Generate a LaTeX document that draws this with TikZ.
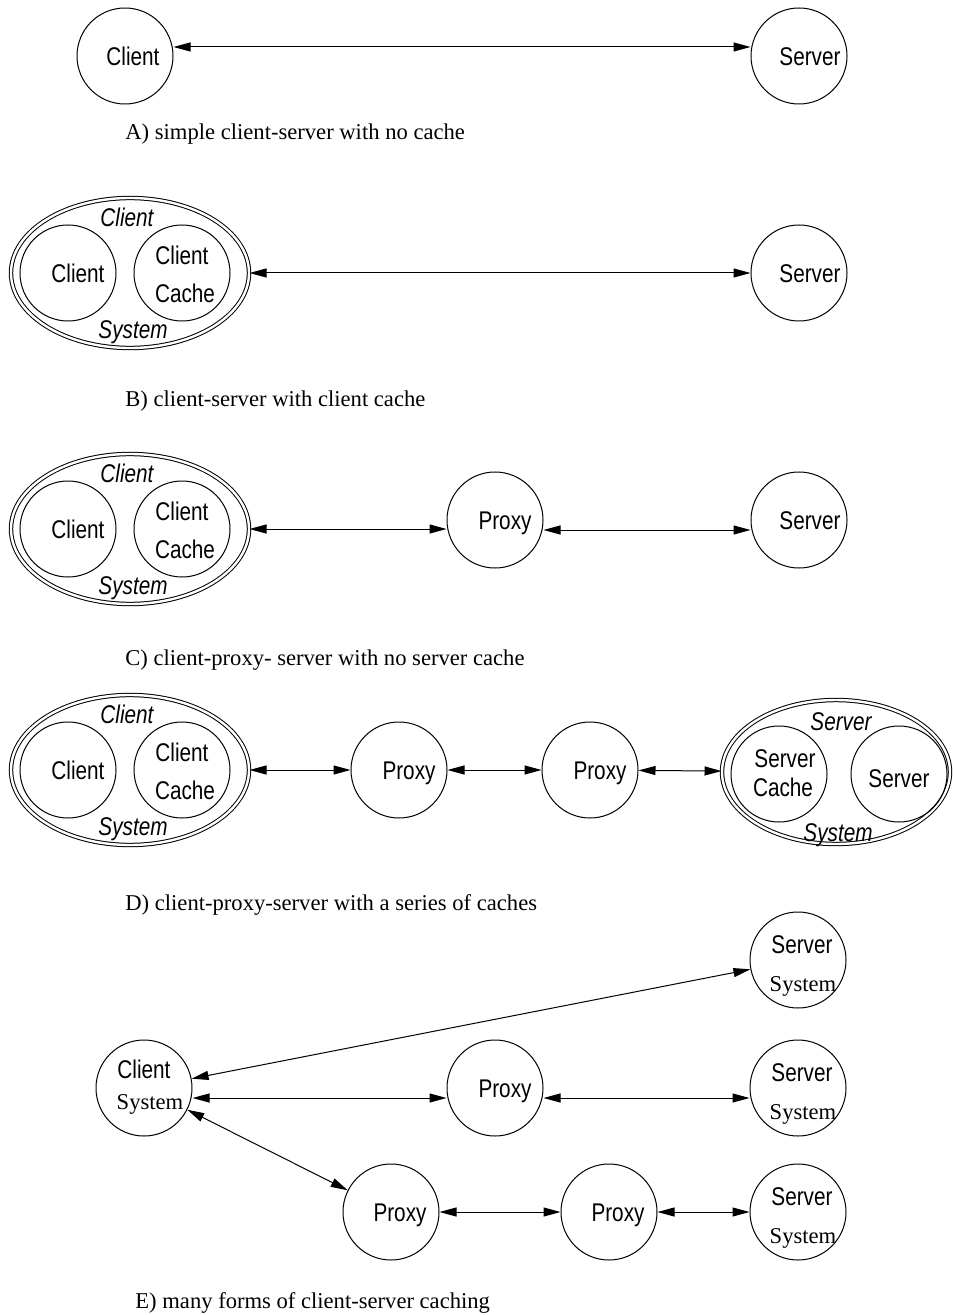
\documentclass[tikz,border=0pt]{standalone}
\usepackage{fontspec}
\setmainfont{Liberation Serif}
\newfontfamily\narrowsans[FakeStretch=0.81]{Liberation Sans}
\usetikzlibrary{arrows.meta,shapes.geometric}
\tikzset{
  host/.style={circle,draw,line width=0.5pt,minimum size=48pt,inner sep=0pt},
  sysbox/.style={ellipse,draw,double,double distance=1.2pt,line width=0.5pt,inner sep=0pt},
  word/.style={font=\narrowsans\fontsize{12.8}{15}\selectfont,inner sep=0pt,text height=9.2pt,text depth=0pt},
  sysword/.style={word,font=\narrowsans\itshape\fontsize{12.8}{15}\selectfont},
  romword/.style={font=\fontsize{11.3}{13.5}\selectfont,inner sep=0pt,text height=7.5pt,text depth=0pt},
  caption/.style={font=\fontsize{11.3}{13.5}\selectfont,inner sep=0pt,anchor=base west},
  link/.style={{Triangle[length=8.5pt,width=4.5pt]}-{Triangle[length=8.5pt,width=4.5pt]},line width=0.5pt}
}
\begin{document}
\begin{tikzpicture}[x=0.5pt,y=-0.5pt]
\useasboundingbox (0,0) rectangle (952,1315);
% A) no cache
\node[host,label={[word,xshift=4pt]center:Client}] (cA) at (125,56) {};
\node[host,label={[word,xshift=5.5pt]center:Server}] (sA) at (799,56) {};
\draw[link] ([yshift=4.5pt]cA.east) -- ([yshift=4.5pt]sA.west);
\node[caption] (capA) at (125,140) {A) simple client-server with no cache};
% client systems of rows B, C, D
\foreach \r/\y in {B/273,C/529,D/770}{
  \node[sysbox,minimum width=119pt,minimum height=75pt,
    label={[sysword,xshift=-1.5pt,yshift=28pt]center:Client},
    label={[sysword,xshift=1.5pt,yshift=-28pt]center:System}] (cs\r) at (130,\y) {};
  \node[host,label={[word,xshift=5pt]center:Client}] (c\r) at (68,\y) {};
  \node[host,label={[word,yshift=9pt]center:Client},
    label={[word,xshift=1.5pt,yshift=-10pt]center:Cache}] (cc\r) at (182,\y) {};
}
% B) client cache
\node[host,label={[word,xshift=5.5pt]center:Server}] (sB) at (799,273) {};
\draw[link] (csB) -- (sB);
\node[caption] (capB) at (125,407) {B) client-server with client cache};
% C) proxy
\node[host,label={[word,xshift=5pt]center:Proxy}] (pC) at (495,520) {};
\node[host,label={[word,xshift=5.5pt]center:Server}] (sC) at (799,520) {};
\draw[link] (csC.east) -- (csC.east -| pC.west);
\draw[link] ([yshift=-5pt]pC.east) -- ([yshift=-5pt]sC.west);
\node[caption] (capC) at (125,665) {C) client-proxy- server with no server cache};
% D) series of caches
\node[host,label={[word,xshift=5pt]center:Proxy}] (pD1) at (399,770) {};
\node[host,label={[word,xshift=5pt]center:Proxy}] (pD2) at (590,770) {};
\node[sysbox,minimum width=114pt,minimum height=72pt,
  label={[sysword,xshift=2.5pt,yshift=25.5pt]center:Server},
  label={[sysword,xshift=1pt,yshift=-30pt]center:System}] (ssD) at (836,772) {};
\node[host,label={[word,xshift=3pt,yshift=8pt]center:Server},
  label={[word,xshift=2pt,yshift=-6.5pt]center:Cache}] (scD) at (779,774) {};
\node[host,label={[word,yshift=-2pt]center:Server}] (sD) at (899,774) {};
\draw[link] (csD) -- (pD1);
\draw[link] (pD1) -- (pD2);
\draw[link] (pD2) -- (ssD);
\node[caption] (capD) at (125,910) {D) client-proxy-server with a series of caches};
% E) many forms
\node[host,label={[word,yshift=9.5pt]center:Client},
  label={[romword,xshift=3pt,yshift=-7pt]center:System}] (ceE) at (144,1088) {};
\node[host,label={[word,xshift=5pt]center:Proxy}] (pE) at (495,1088) {};
\node[host,label={[word,xshift=4.5pt]center:Proxy}] (pE2) at (391,1212) {};
\node[host,label={[word,xshift=4.5pt]center:Proxy}] (pE3) at (609,1212) {};
\foreach \n/\y in {sE1/960,sE2/1088,sE3/1212}
  \node[host,label={[word,xshift=2pt,yshift=8pt]center:Server},
    label={[romword,xshift=2.5pt,yshift=-12pt]center:System}] (\n) at (798,\y) {};
\draw[link] (ceE) -- (sE1);
\draw[link] ([yshift=-5pt]ceE.east) -- ([yshift=-5pt]pE.west);
\draw[link] ([yshift=-5pt]pE.east) -- ([yshift=-5pt]sE2.west);
\draw[link] (ceE) -- (pE2);
\draw[link] (pE2) -- (pE3);
\draw[link] (pE3) -- (sE3);
\node[caption] (capE) at (135,1308) {E) many forms of client-server caching};
\end{tikzpicture}
\end{document}
